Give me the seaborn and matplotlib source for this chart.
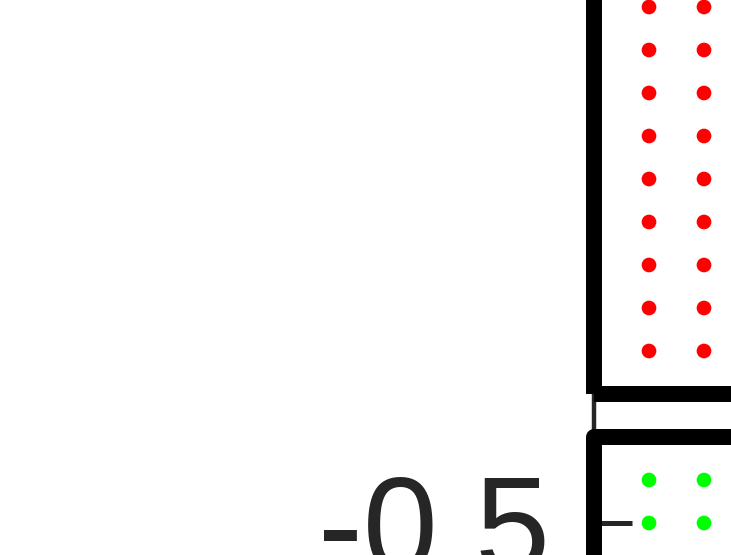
import numpy as np
import pandas as pd
import matplotlib
matplotlib.use("Agg")
import matplotlib.pyplot as plt
from matplotlib.patches import Rectangle
import seaborn as sns

# --- data ---
columns = [0, 1]
red_rows = [3.5, 4.5, 5.5, 6.5, 7.5, 8.5, 9.5, 10.5, 11.5]
green_rows = [-0.5, 0.5]
group_names = ["red", "green"]
group_colors = {"red": "#ff0000", "green": "#00ff00"}
ytick_values = [-0.5]
ytick_labels = ["-0.5"]

rows = []
for g, ys in zip(group_names, [red_rows, green_rows]):
    for y in ys:
        for x in columns:
            rows.append({"x": x, "y": y, "group": g})
df = pd.DataFrame(rows)

sns.set_theme(style="ticks")
plt.rcParams["font.family"] = ["Liberation Sans", "DejaVu Sans"]

W, H = 731, 555
fig = plt.figure(figsize=(W / 100, H / 100), dpi=100)

# axes geometry in pixels (extends past the figure; only a corner is visible)
px_per_x, px_per_y = 55.0, 43.0
left_px, ax_w_px = 594.0, 800.0
bot_px, ax_h_px = -300.0, 1155.0
ax = fig.add_axes([left_px / W, bot_px / H, ax_w_px / W, ax_h_px / H])

# y = -0.5 at 32 px from bottom
y_ref_val, y_ref_px = -0.5, 32.0
ylo = y_ref_val - (y_ref_px - bot_px) / px_per_y
yhi = ylo + ax_h_px / px_per_y
xlo = min(columns) - 1
xhi = xlo + ax_w_px / px_per_x

sns.scatterplot(data=df, x="x", y="y", hue="group", palette=group_colors,
                s=112, linewidth=0, legend=False, ax=ax)

for g, ys in zip(group_names, [red_rows, green_rows]):
    x0 = min(columns) - 1
    y0 = min(ys) - 1
    w = (max(columns) + 1) - x0
    h = (max(ys) + 1) - y0
    ax.add_patch(Rectangle((x0, y0), w, h, fill=False, edgecolor="black",
                           linewidth=11.5, joinstyle="round", clip_on=False,
                           zorder=3))

ax.set_xlim(xlo, xhi)
ax.set_ylim(ylo, yhi)
ax.set_yticks(ytick_values)
ax.set_yticklabels(ytick_labels)
ax.set_xticks([])
ax.set_xlabel("")
ax.set_ylabel("")
for s in ["top", "right", "bottom"]:
    ax.spines[s].set_visible(False)
ax.spines["left"].set_linewidth(3.2)
ax.spines["left"].set_color("#262626")
ax.tick_params(axis="y", direction="in", length=27.5, width=3.6,
               color="#262626", labelsize=97, labelcolor="#262626", pad=32)

fig.savefig("out.png", dpi=100)
